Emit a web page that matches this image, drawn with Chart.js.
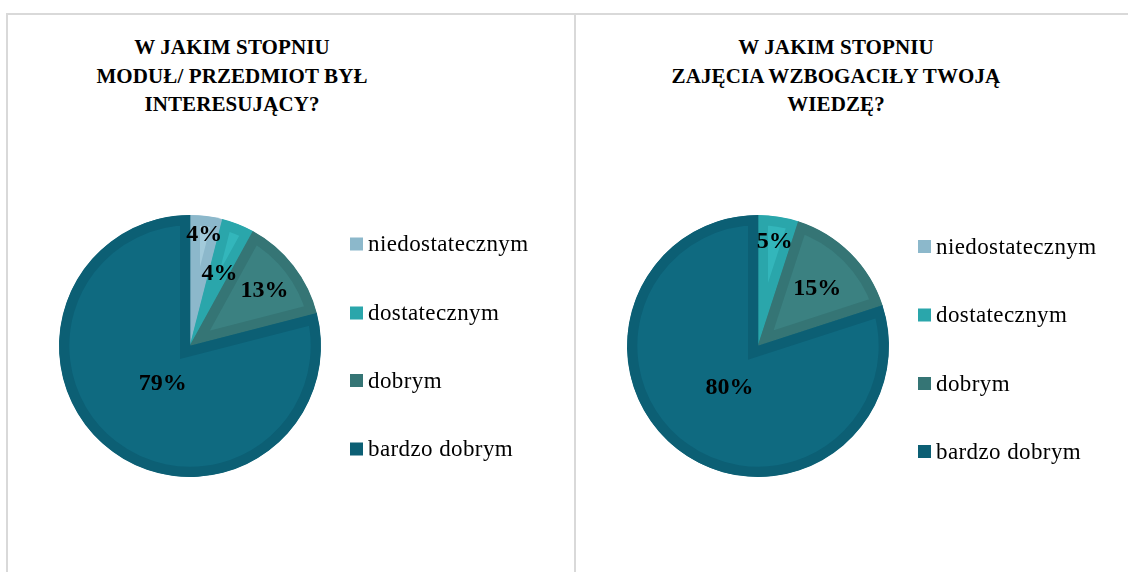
<!DOCTYPE html>
<html><head><meta charset="utf-8">
<script src="https://cdn.jsdelivr.net/npm/chart.js@4.4.1/dist/chart.umd.min.js"></script>
<style>
html,body{margin:0;padding:0;background:#fff;width:1128px;height:572px;overflow:hidden;position:relative;font-family:'Liberation Serif','Times New Roman',serif;}
.panel{position:absolute;top:13px;height:600px;border:2px solid #d9d9d9;border-bottom:none;box-sizing:border-box;}
#p1{left:6px;width:570px;}
#p2{left:574px;width:600px;}
.title{position:absolute;top:33px;font-weight:bold;font-size:21px;line-height:28.5px;text-align:center;color:#000;white-space:nowrap;transform:translateX(-50%);letter-spacing:0.1px;}
#t1{left:232px;}
#t2{left:836px;}
canvas{position:absolute;}
#c1{left:8px;top:130px;}
#c2{left:578px;top:130px;}
</style></head>
<body>
<div class="panel" id="p1"></div>
<div class="panel" id="p2"></div>
<div class="title" id="t1"></div>
<div class="title" id="t2"></div>
<canvas id="c1" width="560" height="400"></canvas>
<canvas id="c2" width="545" height="400"></canvas>
<script>
const categories = ['niedostatecznym', 'dostatecznym', 'dobrym', 'bardzo dobrym'];
const values1 = [4, 4, 13, 79];
const values2 = [0, 5, 15, 80];
const title1 = ['W JAKIM STOPNIU', 'MODUŁ/ PRZEDMIOT BYŁ', 'INTERESUJĄCY?'];
const title2 = ['W JAKIM STOPNIU', 'ZAJĘCIA WZBOGACIŁY TWOJĄ', 'WIEDZĘ?'];
const fillColors = ['#A2CADA', '#33B6BB', '#3B8181', '#0F6A80'];
const bandColors = ['#8CB8CB', '#2AA6AB', '#357575', '#0C5F74'];

document.getElementById('t1').innerHTML = title1.join('<br>');
document.getElementById('t2').innerHTML = title2.join('<br>');

const SERIF = "'Liberation Serif', 'Times New Roman', serif";

const pieText = {
  id: 'pieText',
  afterDatasetsDraw(chart, args, opts) {
    const ctx = chart.ctx;
    const meta = chart.getDatasetMeta(0);
    const data = chart.data.datasets[0].data;
    ctx.save();
    ctx.font = 'bold 24px ' + SERIF;
    ctx.fillStyle = '#000';
    ctx.textAlign = 'center';
    ctx.textBaseline = 'alphabetic';
    meta.data.forEach((arc, i) => {
      if (!data[i]) return;
      const p = arc.getProps(['x', 'y', 'startAngle', 'endAngle', 'outerRadius'], true);
      const mid = (p.startAngle + p.endAngle) / 2;
      const r = opts.frac[i] * p.outerRadius;
      const x = p.x + Math.cos(mid) * r;
      const y = p.y + Math.sin(mid) * r;
      ctx.fillText(data[i] + '%', x, y + 8.5);
    });
    ctx.restore();
  }
};

const sideLegend = {
  id: 'sideLegend',
  afterDraw(chart, args, opts) {
    const ctx = chart.ctx;
    const ds = chart.data.datasets[0];
    ctx.save();
    ctx.font = '23px ' + SERIF;
    try { ctx.letterSpacing = '0.4px'; } catch (e) {}
    ctx.textAlign = 'left';
    ctx.textBaseline = 'alphabetic';
    chart.data.labels.forEach((lab, i) => {
      const cy = opts.ys[i];
      ctx.fillStyle = ds.borderColor[i];
      ctx.fillRect(opts.x, cy - 6.5, 13, 13);
      ctx.fillStyle = '#000';
      ctx.fillText(lab, opts.x + 18, cy + 7);
    });
    ctx.restore();
  }
};

function makePie(id, values, pad, legendX, legendYs, frac) {
  return new Chart(document.getElementById(id), {
    type: 'pie',
    data: {
      labels: categories,
      datasets: [{
        data: values,
        backgroundColor: fillColors,
        borderColor: bandColors,
        borderWidth: 10,
        borderAlign: 'inner',
        borderJoinStyle: 'miter',
        hoverOffset: 0
      }]
    },
    options: {
      responsive: false,
      animation: false,
      devicePixelRatio: 1,
      layout: { padding: pad },
      plugins: {
        legend: { display: false },
        title: { display: false },
        tooltip: { enabled: false },
        pieText: { frac: frac },
        sideLegend: { x: legendX, ys: legendYs }
      }
    },
    plugins: [pieText, sideLegend]
  });
}

makePie('c1', values1, { left: 51, top: 85, right: 247, bottom: 53 }, 342, [114, 183, 250.5, 319], [0.87, 0.61, 0.72, 0.34]);
makePie('c2', values2, { left: 49, top: 85, right: 234, bottom: 53 }, 340, [116.5, 185, 253.5, 321.5], [0.8, 0.82, 0.64, 0.37]);
</script>
</body></html>
